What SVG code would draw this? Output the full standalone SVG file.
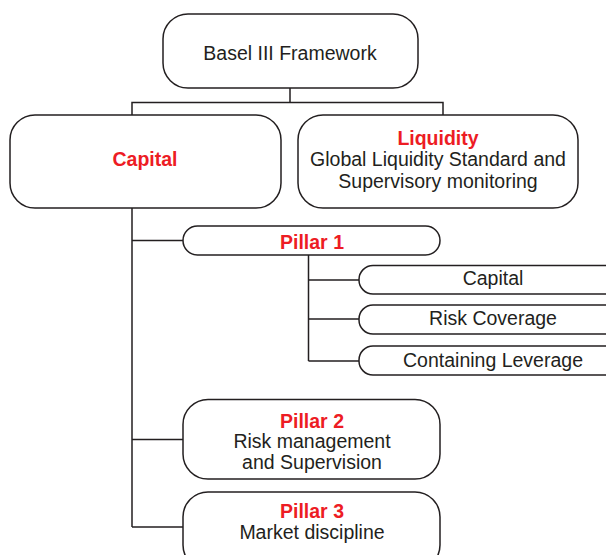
<svg xmlns="http://www.w3.org/2000/svg" width="606" height="555" viewBox="0 0 606 555">
<style>
.box{fill:#fff;stroke:#231f20;stroke-width:1.5}
.ln{fill:none;stroke:#231f20;stroke-width:1.5}
text{font-family:"Liberation Sans",Arial,sans-serif;font-size:19.5px;fill:#231f20;text-anchor:middle}
.t{font-weight:bold;fill:#ed1c24}
</style>
<rect width="606" height="555" fill="#fff"/>
<g id="connectors">
<path class="ln" d="M290,88V102.5M132,115V102.5H443V115"/>
<path class="ln" d="M132,208V527M132,240.5H183M132,439.5H183M132,527H183"/>
<path class="ln" d="M308.5,255V361M308.5,280H359M308.5,319H359M308.5,361H359"/>
</g>
<g id="basel"><rect class="box" x="163" y="14" width="255" height="74" rx="25"/><text x="290" y="60">Basel III Framework</text></g>
<g id="capital"><rect class="box" x="10" y="115" width="271" height="93" rx="25"/><text class="t" x="145" y="166">Capital</text></g>
<g id="liquidity"><rect class="box" x="298" y="115" width="280" height="93" rx="25"/><text class="t" x="438" y="145">Liquidity</text><text x="438" y="166">Global Liquidity Standard and</text><text x="438" y="188">Supervisory monitoring</text></g>
<g id="pillar1"><rect class="box" x="183" y="226" width="257" height="29" rx="14.5"/><text class="t" x="312" y="248.5">Pillar 1</text></g>
<g id="p1capital"><rect class="box" x="359" y="265.5" width="262" height="28.5" rx="14"/><text x="493" y="285">Capital</text></g>
<g id="riskcoverage"><rect class="box" x="359" y="305" width="262" height="29" rx="14"/><text x="493" y="325">Risk Coverage</text></g>
<g id="leverage"><rect class="box" x="359" y="346" width="262" height="29" rx="14"/><text x="493" y="366.5">Containing Leverage</text></g>
<g id="pillar2"><rect class="box" x="183" y="399.5" width="257" height="79.5" rx="25"/><text class="t" x="312" y="428">Pillar 2</text><text x="312" y="448">Risk management</text><text x="312" y="469">and Supervision</text></g>
<g id="pillar3"><rect class="box" x="183" y="492" width="257" height="78" rx="25"/><text class="t" x="312" y="518">Pillar 3</text><text x="312" y="538.5">Market discipline</text></g>
</svg>
